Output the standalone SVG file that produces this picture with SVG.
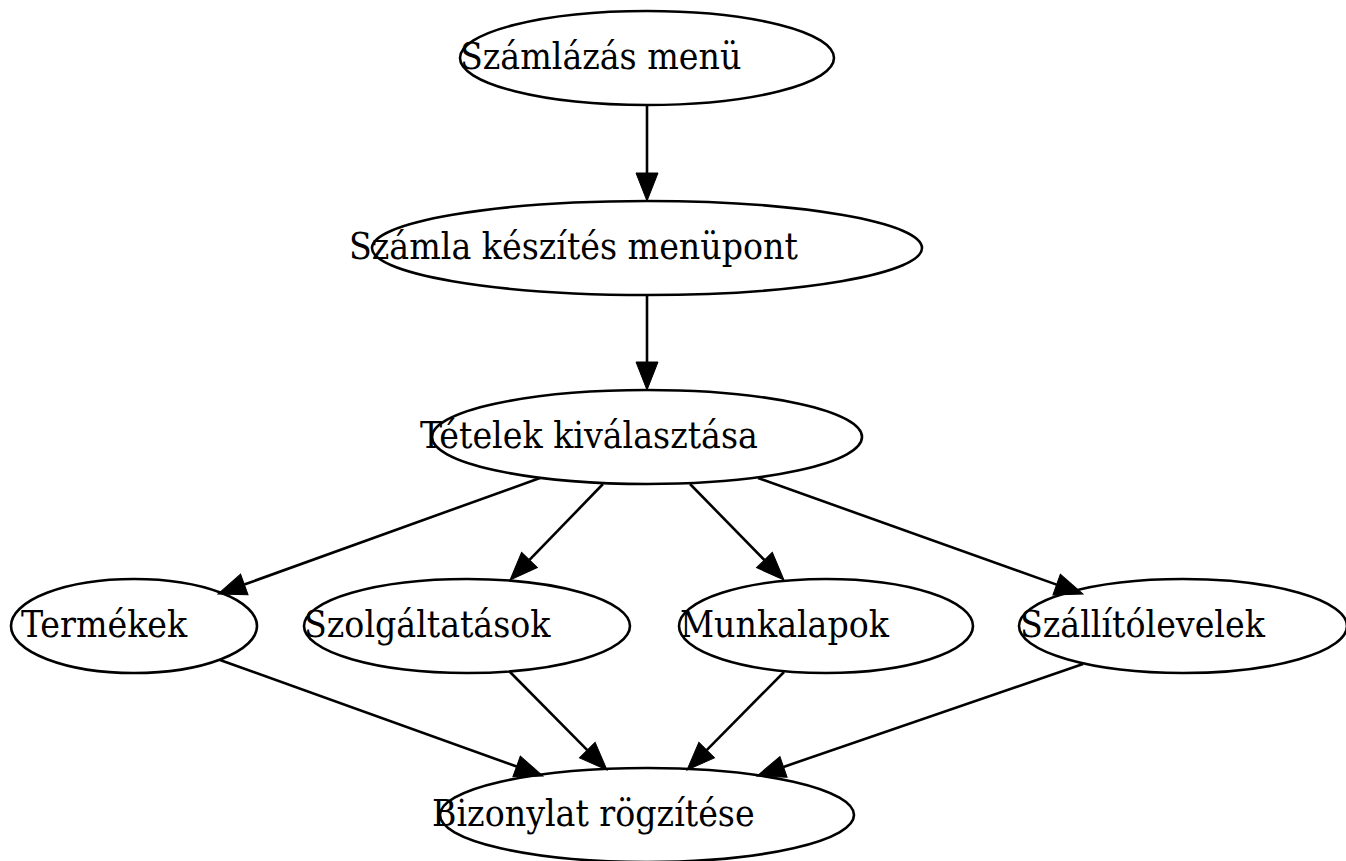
<svg xmlns="http://www.w3.org/2000/svg" width="1346" height="861" viewBox="0 0 1346 861">
<style>
.n ellipse{fill:none;stroke:#000;stroke-width:2.6}
.n text{font-family:"DejaVu Serif Condensed","DejaVu Serif",serif;font-stretch:condensed;font-size:37px;fill:#000}
.e line{stroke:#000;stroke-width:2.6;marker-end:url(#ah)}
</style>
<defs>
<marker id="ah" markerUnits="userSpaceOnUse" markerWidth="30" markerHeight="24" refX="0" refY="11" orient="auto" overflow="visible">
<path d="M0,0 L28,11 L0,22 Z" fill="#000" stroke="#000" stroke-width="1"/>
</marker>
</defs>
<rect width="1346" height="861" fill="#fff"/>
<g id="edges" class="e">
<line x1="647" y1="105" x2="647" y2="173"/>
<line x1="647" y1="295" x2="647" y2="362"/>
<line x1="540" y1="478" x2="244.3" y2="584.5"/>
<line x1="603" y1="484" x2="529.5" y2="559.9"/>
<line x1="690" y1="484" x2="764.4" y2="560"/>
<line x1="758" y1="478" x2="1056.6" y2="584.6"/>
<line x1="220" y1="660" x2="516.6" y2="766.5"/>
<line x1="510" y1="672" x2="587.3" y2="750.1"/>
<line x1="784" y1="672" x2="706.7" y2="750.1"/>
<line x1="1083" y1="664" x2="783.5" y2="766.9"/>
</g>
<g id="n1" class="n"><ellipse cx="647" cy="58" rx="187" ry="47"/><text x="460" y="69">Számlázás menü</text></g>
<g id="n2" class="n"><ellipse cx="647" cy="248" rx="275" ry="47"/><text x="349" y="259">Számla készítés menüpont</text></g>
<g id="n3" class="n"><ellipse cx="647" cy="437" rx="215" ry="47"/><text x="420" y="448">Tételek kiválasztása</text></g>
<g id="n4" class="n"><ellipse cx="134" cy="626" rx="123" ry="47"/><text x="21" y="637">Termékek</text></g>
<g id="n5" class="n"><ellipse cx="467" cy="626" rx="163" ry="47"/><text x="304" y="637">Szolgáltatások</text></g>
<g id="n6" class="n"><ellipse cx="826" cy="626" rx="147" ry="47"/><text x="680" y="637">Munkalapok</text></g>
<g id="n7" class="n"><ellipse cx="1183" cy="626" rx="164" ry="47"/><text x="1020" y="637">Szállítólevelek</text></g>
<g id="n8" class="n"><ellipse cx="647" cy="815" rx="207" ry="47"/><text x="432" y="826">Bizonylat rögzítése</text></g>
</svg>
